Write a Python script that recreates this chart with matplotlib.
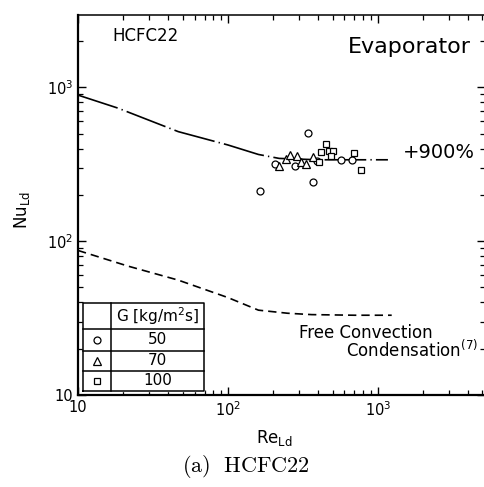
import numpy as np
import matplotlib
matplotlib.use("Agg")
import matplotlib.pyplot as plt

# data
re_g50 = [163, 344, 372, 206, 279, 391, 566, 677]
nu_g50 = [211, 508, 242, 315, 308, 332, 337, 337]
re_g70 = [221, 245, 259, 290, 309, 334, 369]
nu_g70 = [306, 340, 361, 358, 327, 315, 354]
re_g100 = [405, 416, 454, 472, 502, 485, 694, 770]
nu_g100 = [328, 380, 426, 386, 386, 358, 376, 292]

# correlation +900%
re_corr = [10, 18.5, 46.7, 100, 160, 220, 400, 700, 1170]
nu_corr = [890, 732, 515, 422, 366, 345, 338, 338, 338]

# free convection condensation (7)
re_free = [10, 21.6, 46.7, 100, 160, 250, 363, 700, 1240]
nu_free = [87, 68.8, 55.8, 43, 35.6, 34.0, 33.3, 33.0, 33.0]

legend_marks = ["o", "^", "s"]
legend_vals = ["50", "70", "100"]

fig = plt.figure(figsize=(4.85, 4.87), dpi=100)
ax = fig.add_axes([78 / 485, 92 / 487, 407 / 485, 380 / 487])

lw = 1.2
ax.plot(re_corr, nu_corr, color="black", lw=lw,
        linestyle=(0, (25, 2.5, 0.8, 2.5)))
ax.plot(re_free, nu_free, color="black", lw=lw, linestyle=(0, (5, 3)))

mk = dict(linestyle="none", mfc="white", mec="black", mew=0.9)
msize = {"o": 5, "^": 6.2, "s": 5}
ax.plot(re_g50, nu_g50, marker="o", ms=msize["o"], **mk)
ax.plot(re_g70, nu_g70, marker="^", ms=msize["^"], **mk)
ax.plot(re_g100, nu_g100, marker="s", ms=msize["s"], **mk)

ax.set_xscale("log")
ax.set_yscale("log")
ax.set_xlim(10, 5200)
ax.set_ylim(10, 10 ** 3.47)

ax.set_xticks([10, 100, 1000], ["10", "$10^2$", "$10^3$"])
ax.set_yticks([10, 100, 1000], ["10", "$10^2$", "$10^3$"])
ax.tick_params(which="both", direction="in", top=True, right=True,
               labelsize=10.5)
ax.tick_params(which="major", length=6, width=1)
ax.tick_params(which="minor", length=3.5, width=0.9)

ax.spines["left"].set_linewidth(1.6)
ax.spines["bottom"].set_linewidth(1.6)
ax.spines["top"].set_linewidth(1.1)
ax.spines["right"].set_visible(False)

ax.set_xlabel(r"Re$_{\rm Ld}$", fontsize=12)
ax.set_ylabel(r"Nu$_{\rm Ld}$", fontsize=12)
ax.xaxis.set_label_coords(0.482, -0.088)
ax.yaxis.set_label_coords(-0.112, 0.487)

ax.text(0.165, 0.945, "HCFC22", transform=ax.transAxes, fontsize=12,
        ha="center", va="center")
ax.text(0.813, 0.917, "Evaporator", transform=ax.transAxes, fontsize=16,
        ha="center", va="center")
ax.text(0.798, 0.637, "+900%", transform=ax.transAxes, fontsize=14,
        ha="left", va="center")
ax.text(0.543, 0.163, "Free Convection", transform=ax.transAxes,
        fontsize=12, ha="left", va="center")
ax.text(0.658, 0.118, r"Condensation$^{(7)}$", transform=ax.transAxes,
        fontsize=12, ha="left", va="center")

# legend table
tl, tr, tdiv = 0.0115, 0.3096, 0.0803
rows = [0.2413, 0.1737, 0.1166, 0.0639, 0.0113]
tkw = dict(transform=ax.transAxes, color="black", lw=1.1, clip_on=False)
ax.fill([tl, tr, tr, tl], [rows[-1], rows[-1], rows[0], rows[0]],
        color="white", transform=ax.transAxes, zorder=3)
ax.plot([tl, tr, tr, tl, tl], [rows[-1], rows[-1], rows[0], rows[0], rows[-1]],
        zorder=4, **tkw)
ax.plot([tdiv, tdiv], [rows[-1], rows[0]], zorder=4, **tkw)
for yr in rows[1:-1]:
    ax.plot([tl, tr], [yr, yr], zorder=4, **tkw)
xc_mark = (tl + tdiv) / 2
xc_val = (tdiv + tr) / 2
ax.text(xc_val, (rows[0] + rows[1]) / 2, r"G [kg/m$^2$s]",
        transform=ax.transAxes, fontsize=11, ha="center", va="center",
        zorder=5)
for i, (m, v) in enumerate(zip(legend_marks, legend_vals)):
    yc = (rows[i + 1] + rows[i + 2]) / 2
    ax.plot([xc_mark], [yc], marker=m, ms=msize[m], transform=ax.transAxes,
            zorder=5, **mk)
    ax.text(xc_val, yc, v, transform=ax.transAxes, fontsize=11,
            ha="center", va="center", zorder=5)

fig.text(0.507, 0.042, r"$\mathrm{(a)\ \ HCFC22}$", fontsize=16,
         ha="center", va="center", math_fontfamily="cm")

fig.savefig("out.png", dpi=100)
